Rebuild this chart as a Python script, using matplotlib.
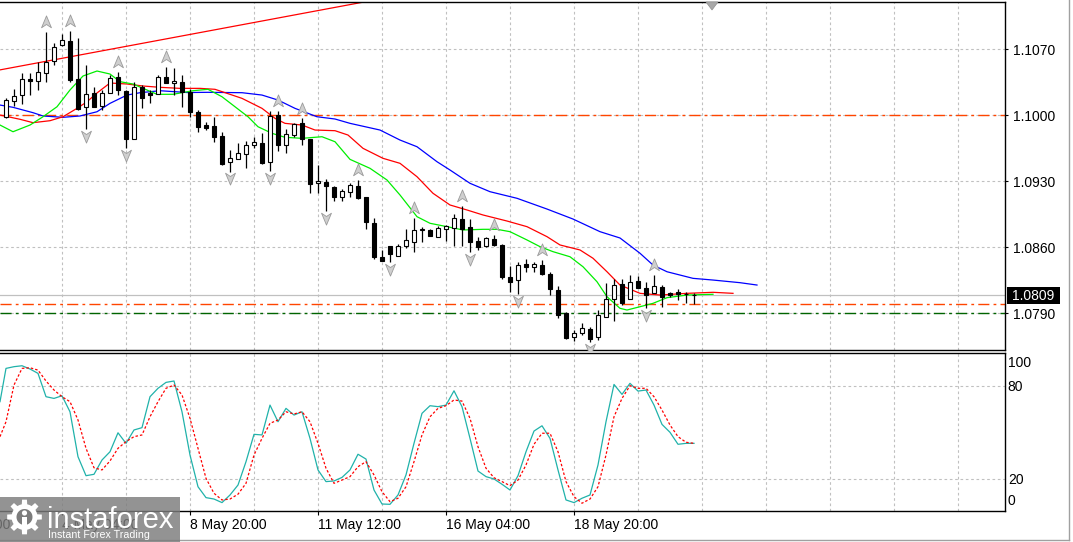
import matplotlib
matplotlib.use("Agg")
import matplotlib.pyplot as plt
from matplotlib.path import Path
from matplotlib.patches import Rectangle, Polygon
import numpy as np

plt.rcParams['font.family'] = ['Liberation Sans', 'DejaVu Sans']

# ---------------- data (EURUSD H4) ----------------
open_ = [1.09976, 1.10149, 1.10209, 1.10379, 1.10358, 1.10443, 1.10576, 1.10743, 1.10785, 1.10379,
         1.10082, 1.10231, 1.10099, 1.10237, 1.10400, 1.10255, 1.09749, 1.10294, 1.10237, 1.10220,
         1.10400, 1.10337, 1.10347, 1.10247, 1.10035, 1.09894, 1.09884, 1.09778, 1.09497, 1.09530,
         1.09583, 1.09685, 1.09700, 1.09502, 1.10000, 1.09677, 1.09785, 1.09912, 1.09743, 1.09276,
         1.09293, 1.09234, 1.09134, 1.09187, 1.09247, 1.09127, 1.08852, 1.08491, 1.08606, 1.08510,
         1.08614, 1.08657, 1.08777, 1.08781, 1.08710, 1.08788, 1.08805, 1.08897, 1.08816, 1.08667,
         1.08614, 1.08682, 1.08622, 1.08279, 1.08250, 1.08417, 1.08385, 1.08409, 1.08314, 1.08144,
         1.07897, 1.07643, 1.07691, 1.07727, 1.07643, 1.07861, 1.08049, 1.08208, 1.08049, 1.08240,
         1.08162, 1.08109, 1.08173, 1.08109, 1.08120, 1.08102, 1.08094]
high = [1.10177, 1.10273, 1.10443, 1.10443, 1.10566, 1.10884, 1.10761, 1.10859, 1.10891, 1.10814,
        1.10531, 1.10294, 1.10266, 1.10425, 1.10460, 1.10266, 1.10354, 1.10319, 1.10266, 1.10425,
        1.10513, 1.10496, 1.10425, 1.10273, 1.10053, 1.09929, 1.09984, 1.09820, 1.09629, 1.09703,
        1.09725, 1.09764, 1.09809, 1.10040, 1.10048, 1.09852, 1.09912, 1.09965, 1.09746, 1.09470,
        1.09322, 1.09247, 1.09212, 1.09276, 1.09316, 1.09134, 1.08905, 1.08569, 1.08611, 1.08629,
        1.08788, 1.08905, 1.08809, 1.08788, 1.08823, 1.08834, 1.08947, 1.09035, 1.08897, 1.08703,
        1.08703, 1.08728, 1.08629, 1.08399, 1.08444, 1.08473, 1.08444, 1.08462, 1.08338, 1.08187,
        1.07911, 1.07720, 1.07791, 1.07755, 1.07932, 1.08215, 1.08258, 1.08258, 1.08303, 1.08293,
        1.08232, 1.08303, 1.08197, 1.08126, 1.08152, 1.08126, 1.08116]
low = [1.09968, 1.10096, 1.10117, 1.10212, 1.10266, 1.10354, 1.10531, 1.10737, 1.10354, 1.10053,
       1.09849, 1.10082, 1.10053, 1.10231, 1.10212, 1.09647, 1.09743, 1.10071, 1.10124, 1.10220,
       1.10337, 1.10212, 1.10088, 1.09976, 1.09823, 1.09841, 1.09711, 1.09470, 1.09399, 1.09530,
       1.09443, 1.09650, 1.09481, 1.09404, 1.09619, 1.09594, 1.09764, 1.09677, 1.09170, 1.09170,
       1.08985, 1.09091, 1.09091, 1.09134, 1.09106, 1.08791, 1.08470, 1.08452, 1.08444, 1.08508,
       1.08593, 1.08544, 1.08650, 1.08717, 1.08703, 1.08667, 1.08614, 1.08614, 1.08544, 1.08569,
       1.08604, 1.08611, 1.08258, 1.08126, 1.08102, 1.08338, 1.08338, 1.08303, 1.08091, 1.07844,
       1.07621, 1.07600, 1.07667, 1.07590, 1.07614, 1.07861, 1.07819, 1.07985, 1.08049, 1.08163,
       1.07950, 1.08109, 1.07961, 1.08073, 1.08038, 1.08010, 1.07993]
close = [1.10159, 1.10202, 1.10379, 1.10364, 1.10456, 1.10566, 1.10725, 1.10796, 1.10372, 1.10067,
         1.10220, 1.10088, 1.10231, 1.10390, 1.10266, 1.09743, 1.10301, 1.10177, 1.10216, 1.10407,
         1.10343, 1.10361, 1.10247, 1.10035, 1.09876, 1.09866, 1.09762, 1.09481, 1.09541, 1.09594,
         1.09680, 1.09712, 1.09494, 1.09987, 1.09682, 1.09797, 1.09902, 1.09743, 1.09265, 1.09304,
         1.09247, 1.09127, 1.09197, 1.09253, 1.09117, 1.08862, 1.08497, 1.08455, 1.08521, 1.08614,
         1.08675, 1.08781, 1.08788, 1.08720, 1.08805, 1.08823, 1.08905, 1.08791, 1.08650, 1.08604,
         1.08693, 1.08622, 1.08279, 1.08232, 1.08409, 1.08391, 1.08420, 1.08314, 1.08152, 1.07879,
         1.07632, 1.07685, 1.07738, 1.07621, 1.07879, 1.08046, 1.08197, 1.08010, 1.08232, 1.08169,
         1.08091, 1.08187, 1.08073, 1.08091, 1.08102, 1.08101, 1.08092]

# Alligator lines (bar position, price)
jaw_x = [-0.75, 0.875, 3.375, 4.625, 7.125, 9.25, 11.375, 13, 15.125, 16.75, 19.25, 22.625, 25.25,
         29.5, 32, 34, 36.125, 38.875, 41.125, 43, 46.75, 49.25, 51.375, 53.875, 55.5, 58, 60.5,
         63.875, 67.625, 70.875, 74.25, 76.75, 79.25, 80.875, 82.625, 85.875, 88.375, 91.75, 93.875]
jaw_y = [1.10106, 1.10082, 1.10025, 1.09990, 1.09976, 1.09990, 1.10035, 1.10124, 1.10212, 1.10237,
         1.10258, 1.10239, 1.10241, 1.10237, 1.10212, 1.10159, 1.10071, 1.09982, 1.09958, 1.09912,
         1.09841, 1.09735, 1.09664, 1.09505, 1.09417, 1.09276, 1.09187, 1.09117, 1.09003, 1.08897,
         1.08763, 1.08696, 1.08534, 1.08409, 1.08338, 1.08268, 1.08250, 1.08222, 1.08197]
teeth_x = [-0.75, 1.75, 3.375, 5.5, 7.125, 8.875, 10.125, 11.375, 13, 15.125, 17.125, 19.25, 21.75,
           24.25, 26.125, 29.5, 32, 33.625, 34.875, 37, 38.625, 41.125, 42.75, 44.625, 47.125, 49.25,
           51.375, 53.375, 55.5, 57.625, 59.625, 62.625, 65.125, 67.625, 69.25, 71.75, 73.375,
           75.125, 76.75, 79.25, 81.75, 85.125, 88.375, 90.875]
teeth_y = [1.10000, 1.09955, 1.09919, 1.09940, 1.09982, 1.10071, 1.10141, 1.10234, 1.10340, 1.10329,
           1.10308, 1.10294, 1.10283, 1.10283, 1.10273, 1.10177, 1.10071, 1.09965, 1.09912, 1.09894,
           1.09841, 1.09834, 1.09788, 1.09647, 1.09541, 1.09488, 1.09346, 1.09170, 1.09046, 1.08993,
           1.08940, 1.08876, 1.08816, 1.08710, 1.08622, 1.08569, 1.08481, 1.08338, 1.08197, 1.08109,
           1.08091, 1.08109, 1.08120, 1.08109]
lips_x = [-0.75, 0.875, 3, 4.625, 6.375, 8, 9.625, 11.375, 13, 14.25, 15.875, 18.875, 20.875, 23.375,
          25.25, 27, 28.625, 30.25, 31.5, 33.25, 34.875, 37, 39.5, 41.125, 43, 45.5, 47.625, 49.25,
          51.375, 53, 55.125, 57.125, 59.625, 61.375, 63, 65.125, 66.75, 68.375, 70.5, 72.125,
          73.875, 75.125, 76.75, 77.625, 79.25, 80.875, 82.625, 85.125, 88.375]
lips_y = [1.09894, 1.09823, 1.09894, 1.09982, 1.10088, 1.10266, 1.10414, 1.10467, 1.10435, 1.10354,
          1.10329, 1.10220, 1.10220, 1.10258, 1.10273, 1.10194, 1.10088, 1.09982, 1.09876, 1.09806,
          1.09764, 1.09753, 1.09770, 1.09717, 1.09530, 1.09435, 1.09311, 1.09152, 1.08922, 1.08852,
          1.08816, 1.08781, 1.08788, 1.08788, 1.08763, 1.08675, 1.08604, 1.08551, 1.08497, 1.08391,
          1.08232, 1.08073, 1.07950, 1.07932, 1.07967, 1.08003, 1.08063, 1.08091, 1.08099]

fractal_up = [5, 8, 14, 20, 34, 37, 44, 51, 57, 61, 67, 81]
fractal_down = [10, 15, 28, 33, 40, 48, 58, 64, 73, 80]

trend_x = [-0.75, 46.0]
trend_y = [1.10479, 1.11219]

level_red = [1.1000, 1.0800]
level_green = 1.0790
bid = 1.0809

# Stochastic
stoch_x = [-0.75] + list(range(87))
stoch_main = [69.7, 91.1, 92.2, 92.8, 90.7, 87.9, 72.9, 71.8, 73.5, 63.2, 34.3,
              22.1, 23.0, 32.2, 37.5, 49.7, 42.9, 51.5, 53.0, 72.9, 78.3,
              82.1, 83.0, 63.2, 35.4, 15.0, 8.0, 7.1, 4.8, 9.7, 16.1,
              31.1, 48.7, 48.3, 67.5, 56.8, 65.4, 61.1, 63.2, 46.1, 25.8,
              18.3, 18.7, 21.0, 25.8, 35.9, 32.8, 12.9, 3.9, 3.7, 9.7,
              22.6, 42.9, 62.2, 67.1, 66.5, 67.5, 76.7, 66.5, 46.1, 25.1,
              21.5, 20.0, 16.6, 12.9, 22.1, 37.5, 50.8, 54.2, 46.1, 25.8,
              6.5, 4.8, 7.6, 9.7, 29.0, 56.8, 80.8, 74.4, 81.5, 76.5,
              77.2, 67.5, 55.1, 50.0, 42.3, 42.9, 42.9]
stoch_signal = [47.2, 56.8, 80.4, 91.1, 91.5, 90.0, 83.0, 77.2, 72.9, 69.7, 57.9,
                39.7, 27.2, 25.8, 31.6, 39.7, 44.0, 47.2, 48.3, 60.0, 69.7,
                78.3, 80.4, 74.0, 59.0, 39.7, 20.4, 10.8, 6.5, 7.1, 10.2,
                17.2, 35.4, 46.1, 55.8, 57.9, 63.2, 61.8, 63.2, 56.8, 42.9,
                26.9, 17.2, 19.3, 21.5, 27.9, 31.1, 22.6, 11.8, 5.4, 7.6,
                15.0, 31.1, 48.3, 60.0, 65.4, 67.1, 70.8, 70.1, 59.0, 40.7,
                26.9, 20.8, 18.3, 15.7, 19.3, 29.0, 42.3, 49.4, 49.4, 37.5,
                18.3, 8.6, 4.4, 7.1, 15.0, 35.4, 60.0, 71.8, 80.0, 78.3,
                78.3, 72.9, 64.3, 54.7, 47.2, 43.6, 42.9]

price_ticks = [1.0790, 1.0860, 1.0930, 1.1000, 1.1070]
stoch_ticks = [20, 80]
time_ticks = [7, 23, 39, 55, 71]
time_labels = ['4 May 04:00', '8 May 20:00', '11 May 12:00', '16 May 04:00', '18 May 20:00']
partial_tick, partial_label = -9, '1 May 12:00'

# ---------------- figure ----------------
W, H = 1073, 542
fig = plt.figure(figsize=(W / 100, H / 100), dpi=100)
fig.patch.set_facecolor('white')

def F(px, py):
    return (px / W, 1 - py / H)

ax = fig.add_axes([0, 1 - 350 / H, 1005 / W, 348 / H])
ax2 = fig.add_axes([0, 1 - 511 / H, 1005 / W, 158 / H])
XMIN, XMAX = -0.75, 124.875
FS = 10
GRID = '#C0C0C0'
DASHDOT = (8, 3, 2, 3)

for a in (ax, ax2):
    a.set_xlim(XMIN, XMAX)
    a.spines['left'].set_visible(False)
    for s in ('top', 'right', 'bottom'):
        a.spines[s].set_color('black')
        a.spines[s].set_linewidth(1.0)
    for gx in np.arange(7, 125, 8):
        a.axvline(gx, color=GRID, lw=0.8, dashes=(2.4, 2.4), zorder=1)

ax.set_ylim(1.07508, 1.11199)
ax2.set_ylim(-0.6, 101)

for p in price_ticks:
    ax.axhline(p, color=GRID, lw=0.8, dashes=(2.4, 2.4), zorder=1)
for v in stoch_ticks:
    ax2.axhline(v, color=GRID, lw=0.8, dashes=(2.4, 2.4), zorder=1)

# levels
ax.axhline(bid, color='#C0C0C0', lw=0.9, zorder=2)
for lv in level_red:
    ax.axhline(lv, color='#FF4500', lw=1.0, dashes=DASHDOT, zorder=2)
ax.axhline(level_green, color='#006400', lw=1.0, dashes=DASHDOT, zorder=2)

# trendline
ax.plot(trend_x, trend_y, color='#FF0000', lw=0.9, zorder=2)

# alligator
ax.plot(jaw_x, jaw_y, color='#0000FF', lw=0.9, zorder=2)
ax.plot(teeth_x, teeth_y, color='#FF0000', lw=0.9, zorder=2)
ax.plot(lips_x, lips_y, color='#00EE00', lw=0.9, zorder=2)

# candles
idx = np.arange(len(open_))
o = np.array(open_); c = np.array(close); hi = np.array(high); lo = np.array(low)
ax.vlines(idx, lo, hi, color='black', lw=0.9, zorder=3)
bottoms = np.minimum(o, c)
heights = np.maximum(np.abs(c - o), 0.00002)
cols = ['white' if cc >= oo else 'black' for oo, cc in zip(o, c)]
ax.bar(idx, heights, bottom=bottoms, width=0.55, color=cols, edgecolor='black',
       linewidth=0.8, zorder=4)

# fractals
up_path = Path([(0, 1), (0.75, -0.8), (0, -0.3), (-0.75, -0.8), (0, 1)],
               [Path.MOVETO, Path.LINETO, Path.LINETO, Path.LINETO, Path.CLOSEPOLY])
dn_path = Path([(0, -1), (0.75, 0.8), (0, 0.3), (-0.75, 0.8), (0, -1)],
               [Path.MOVETO, Path.LINETO, Path.LINETO, Path.LINETO, Path.CLOSEPOLY])
ax.plot(fractal_up, hi[fractal_up] + 0.00104, ls='none', marker=up_path, ms=9.5,
        mfc='#CFCFCF', mec='#9A9A9A', mew=0.6, zorder=5)
ax.plot(fractal_down, lo[fractal_down] - 0.00072, ls='none', marker=dn_path, ms=9.5,
        mfc='#CFCFCF', mec='#9A9A9A', mew=0.6, zorder=5)

# stochastic
ax2.plot(stoch_x, stoch_main, color='#20B2AA', lw=0.9, zorder=3)
ax2.plot(stoch_x, stoch_signal, color='#FF0000', lw=0.9, dashes=(2, 1.6), zorder=3)

# axes ticks
ax.set_xticks([])
ax.yaxis.tick_right()
ax.set_yticks(price_ticks)
ax.set_yticklabels([f'{p:.4f}' for p in price_ticks])
ax.tick_params(axis='y', length=2.5, width=0.8, pad=3, labelsize=FS, colors='black')

ax2.yaxis.tick_right()
ax2.set_yticks(stoch_ticks)
ax2.set_yticklabels([str(v) for v in stoch_ticks])
ax2.tick_params(axis='y', length=0, pad=2, labelsize=FS)
ytr = ax2.get_yaxis_transform()
ax2.text(1.0 + 3 / 1005, 94.5, '100', transform=ytr, fontsize=FS, va='center', ha='left')
ax2.text(1.0 + 3 / 1005, 5.8, '0', transform=ytr, fontsize=FS, va='center', ha='left')

ax2.set_xticks(time_ticks)
ax2.set_xticklabels(time_labels, ha='left')
ax2.tick_params(axis='x', length=3, width=0.8, pad=2, labelsize=FS)
ax2.annotate(partial_label, xy=(partial_tick, 0), xycoords=('data', 'axes fraction'),
             xytext=(0, -5), textcoords='offset points', ha='left', va='top',
             fontsize=FS, annotation_clip=False)

# bid label box
fig.add_artist(Rectangle(F(1007, 304), 53 / W, 17 / H, transform=fig.transFigure,
                         facecolor='black', edgecolor='none', zorder=10))
fig.text(*F(1012, 295.5), f'{bid:.4f}', color='white', fontsize=FS, va='center', ha='left', zorder=11)

# chart shift marker
fig.add_artist(Polygon([F(706, 2), F(718, 2), F(712, 10)], closed=True, transform=fig.transFigure,
                       facecolor='#A8A8A8', edgecolor='#909090', lw=0.5, zorder=10))

# outer frame
fig.add_artist(plt.Line2D([1069 / W, 1069 / W], [1 - 540 / H, 1], transform=fig.transFigure,
                          color='#A0A0A0', lw=1))
fig.add_artist(plt.Line2D([0, 1069 / W], [1 - 540 / H, 1 - 540 / H], transform=fig.transFigure,
                          color='#A0A0A0', lw=1))

# watermark
BOX = '#7C7C7C'
fig.add_artist(Rectangle(F(0, 542), 180 / W, 45 / H, transform=fig.transFigure,
                         facecolor=BOX, edgecolor='none', alpha=0.82, zorder=12))
cx, cy = 24.5, 517.0
pts = []
for k in range(8):
    a0 = np.deg2rad(k * 45)
    for dr, da in ((13, -22.5), (13, -12), (17.5, -8), (17.5, 8), (13, 12)):
        t = a0 + np.deg2rad(da)
        pts.append(F(cx + dr * np.cos(t), cy + dr * np.sin(t)))
fig.add_artist(Polygon(pts, closed=True, transform=fig.transFigure, facecolor='white',
                       edgecolor='none', zorder=13))
circ = [F(cx + 8 * np.cos(t), cy + 8 * np.sin(t)) for t in np.linspace(0, 2 * np.pi, 40)]
fig.add_artist(Polygon(circ, closed=True, transform=fig.transFigure, facecolor=BOX,
                       edgecolor='none', zorder=14))
head = [F(cx + 2.6 * np.cos(t), cy - 4 + 2.6 * np.sin(t)) for t in np.linspace(0, 2 * np.pi, 20)]
fig.add_artist(Polygon(head, closed=True, transform=fig.transFigure, facecolor='white',
                       edgecolor='none', zorder=15))
fig.add_artist(Polygon([F(cx - 2.2, cy), F(cx + 2.2, cy), F(cx + 2.2, cy + 16), F(cx - 2.2, cy + 16)],
                       closed=True, transform=fig.transFigure, facecolor='white',
                       edgecolor='none', zorder=15))
fig.text(*F(47, 528), 'instaforex', color='white', fontsize=21, va='baseline', ha='left', zorder=16)
fig.text(*F(48, 538.5), 'Instant Forex Trading', color='white', fontsize=7.7, va='baseline',
         ha='left', zorder=16)

fig.savefig('out.png', dpi=100, facecolor='white')
